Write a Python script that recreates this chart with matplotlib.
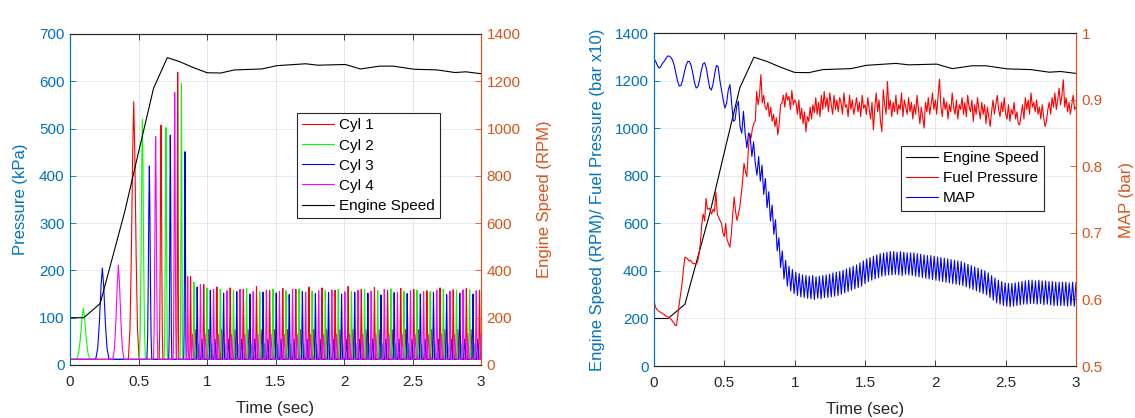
import numpy as np
import matplotlib.pyplot as plt

plt.rcParams['font.family'] = ['Liberation Sans', 'DejaVu Sans']

C_LEFT = (0.0, 0.447, 0.741)
C_RIGHT = (0.85, 0.325, 0.098)
C_DARK = (0.15, 0.15, 0.15)

# engine speed (RPM), same run on both panels
speed_t = [0.0, 0.10, 0.22, 0.40, 0.50, 0.61, 0.71, 0.80, 0.90, 1.00, 1.10, 1.20, 1.40,
           1.51, 1.72, 1.81, 2.01, 2.12, 2.26, 2.36, 2.51, 2.68, 2.81, 2.89, 3.00]
speed_rpm = [200, 200, 260, 650, 900, 1171, 1300, 1283, 1258, 1236, 1235, 1248, 1252,
             1266, 1274, 1268, 1271, 1252, 1264, 1264, 1251, 1248, 1237, 1240, 1232]

# cylinder pressure peaks: firing time (s) and peak pressure (kPa)
cyl1_t = [0.465, 0.664, 0.786, 0.880,
          0.976, 1.072, 1.169, 1.265, 1.361, 1.457, 1.553, 1.648, 1.744, 1.839, 1.935,
          2.030, 2.126, 2.222, 2.318, 2.414, 2.509, 2.605, 2.701, 2.797, 2.893, 2.989]
cyl1_p = [557, 507, 619, 187,
          170, 165, 163, 160, 166, 158, 162, 160, 165, 163, 158,
          166, 160, 164, 158, 162, 160, 157, 163, 159, 162, 158]
cyl2_t = [0.097, 0.528, 0.700, 0.813,
          0.904, 1.000, 1.097, 1.193, 1.289, 1.385, 1.481, 1.576, 1.672, 1.767, 1.863,
          1.958, 2.054, 2.150, 2.246, 2.342, 2.437, 2.533, 2.629, 2.725, 2.821, 2.917]
cyl2_p = [120, 520, 502, 595,
          175, 163, 160, 158, 162, 155, 160, 157, 161, 156, 158,
          160, 155, 159, 157, 161, 156, 158, 155, 160, 157, 159]
cyl3_t = [0.236, 0.579, 0.732, 0.839,
          0.928, 1.024, 1.121, 1.217, 1.313, 1.409, 1.505, 1.600, 1.696, 1.791, 1.887,
          1.982, 2.078, 2.174, 2.270, 2.366, 2.461, 2.557, 2.653, 2.749, 2.845, 2.941]
cyl3_p = [205, 421, 486, 451,
          165, 158, 152, 155, 150, 154, 152, 149, 155, 151, 153,
          150, 154, 152, 148, 153, 151, 150, 154, 149, 152, 150]
cyl4_t = [0.353, 0.625, 0.764, 0.859,
          0.952, 1.048, 1.145, 1.241, 1.337, 1.433, 1.529, 1.624, 1.720, 1.815, 1.911,
          2.006, 2.102, 2.198, 2.294, 2.390, 2.485, 2.581, 2.677, 2.773, 2.869, 2.965]
cyl4_p = [211, 483, 576, 187,
          170, 160, 157, 160, 155, 158, 156, 160, 154, 157,
          159, 155, 158, 156, 160, 154, 157, 155, 158, 156, 159, 157]
cyl_hump = [75, 45, 55, 65]   # residual pressure bump after each firing at idle (kPa)
cyl_base = 12

# fuel pressure (bar x10), sampled every 0.01 s
FUEL_STEP = 0.01
fuel_p = [
    275, 250, 238, 233, 228, 226, 220, 218, 212, 210,
    206, 204, 198, 190, 182, 172, 170, 215, 265, 305,
    350, 410, 458, 455, 450, 442, 445, 436, 430, 432,
    428, 440, 470, 520, 600, 640, 610, 706, 660, 665,
    655, 640, 660, 650, 733, 640, 625, 612, 600, 560,
    545, 600, 530, 515, 500, 560, 640, 712, 650, 613,
    640, 670, 720, 780, 853, 820, 797, 900, 980, 960,
    1000, 1022, 1030, 1156, 1100, 1140, 1227, 1108, 1140, 1090, 1079,
    1110, 1050, 1090, 1030, 1060, 1008, 1045, 973, 1020, 1100,
    1108, 1140, 1090, 1150, 1120, 1135, 1080, 1160, 1100, 1120,
    1108, 1060, 1120, 1040, 1085, 1020, 1070, 987, 1050, 1030,
    1090, 1040, 1100, 1066, 1130, 1060, 1110, 1050, 1140, 1080,
    1156, 1090, 1130, 1070, 1150, 1100, 1060, 1140, 1080, 1120,
    1070, 1130, 1108, 1060, 1150, 1090, 1100, 1050, 1140, 1080,
    1120, 1060, 1092, 1130, 1070, 1110, 1050, 1140, 1085, 1100,
    1060, 1130, 1080, 1040, 1110, 994, 1090, 1150, 1070, 1120,
    1030, 987, 1163, 1100, 1060, 1198, 1080, 1120, 1050, 1110,
    1070, 1140, 1060, 1100, 1080, 1150, 1050, 1120, 1090, 1060,
    1130, 1070, 1110, 1040, 1100, 1060, 1140, 1080, 1020, 1090,
    1050, 1002, 1110, 1070, 1130, 1060, 1100, 1150, 1080, 1120,
    1060, 1140, 1208, 1090, 1050, 1130, 1080, 1110, 1040, 1100,
    1070, 1150, 1090, 1060, 1120, 1040, 1100, 1080, 1130, 1060,
    1110, 1050, 1140, 1090, 1070, 1120, 1030, 1100, 1060, 1130,
    1080, 1040, 1110, 1060, 1100, 1020, 1090, 1050, 1008, 1070,
    1120, 1060, 1100, 1140, 1080, 1050, 1110, 1070, 1130, 1060,
    1040, 1100, 1030, 1080, 1060, 1110, 1040, 1070, 1020, 1015,
    1060, 1100, 1040, 1130, 1080, 1120, 1060, 1150, 1090, 1110,
    1070, 1120, 1060, 1090, 1040, 1100, 1050, 1008, 1030, 1080,
    1110, 1060, 1130, 1090, 1150, 1080, 1120, 1170, 1100, 1140,
    1205, 1090, 1130, 1070, 1110, 1060, 1100, 1140, 1080, 1090,
]

# manifold absolute pressure (bar), sampled every 0.012 s
MAP_STEP = 0.012
map_bar = [
    .962, .958, .952, .948, .950, .955, .958, .962, .966, .966,
    .964, .960, .952, .940, .928, .921, .922, .930, .942, .952,
    .958, .958, .952, .940, .926, .918, .920, .930, .944, .954,
    .956, .948, .932, .918, .915, .924, .940, .952, .950, .930,
    .915, .900, .888, .895, .915, .923, .895, .868, .870, .890,
    .898, .860, .850, .883, .850, .828, .850, .845, .815, .837,
    .805, .787,
    .815, .778, .802, .758, .782, .738, .762, .718, .742, .698,
    .720, .673, .693, .648, .673, .631, .659, .620, .650, .613,
    .645, .609, .641, .606, .639, .604, .637, .603, .636, .602,
    .635, .601, .636, .600, .634, .602, .635, .601, .636, .603,
    .637, .603, .638, .604, .640, .605, .641, .606, .642, .608,
    .644, .610, .646, .612, .648, .614, .650, .616, .652, .618,
    .655, .620, .658, .624, .661, .627, .663, .629, .665, .631,
    .667, .633, .669, .635, .670, .636, .671, .637, .672, .637,
    .672, .638, .671, .637, .672, .636, .671, .638, .670, .637,
    .670, .636, .670, .635, .669, .634, .668, .633, .667, .632,
    .666, .631, .666, .630, .665, .629, .664, .628, .663, .627,
    .662, .626, .661, .625, .660, .624, .659, .623, .658, .622,
    .657, .621, .655, .619, .653, .617, .651, .615, .649, .613,
    .647, .611, .645, .609, .643, .607, .640, .603, .636, .599,
    .632, .595, .629, .593, .627, .591, .625, .590, .624, .589,
    .624, .590, .625, .591, .626, .592, .627, .593, .628, .593,
    .629, .594, .629, .594, .628, .593, .629, .594, .628, .592,
    .628, .593, .627, .592, .627, .591, .626, .591, .626, .591,
    .626, .591, .626, .590, .625, .591, .626, .590, .625,
]

# shape of one combustion pulse (relative time, fraction of peak)
PULSE_U = np.array([-1, -0.7, -0.45, -0.2, 0, 0.2, 0.45, 0.7, 1])
PULSE_F = np.array([0, 0.12, 0.4, 0.8, 1, 0.8, 0.4, 0.12, 0])

all_fire = np.sort(np.concatenate([cyl1_t, cyl2_t, cyl3_t, cyl4_t]))


def pulse_trace(times, peaks, hump):
    xs, ys = [0.0], [cyl_base]
    for t, p in zip(times, peaks):
        k = np.searchsorted(all_fire, t)
        gap = all_fire[k] - all_fire[k - 1] if k > 0 else all_fire[1] - all_fire[0]
        w = 0.35 * gap
        xs += list(t + w * PULSE_U)
        ys += list(cyl_base + (p - cyl_base) * PULSE_F)
        if t > 0.85:
            xs += [t + 0.026, t + 0.034, t + 0.044]
            ys += [cyl_base, hump, cyl_base]
    xs.append(3.0)
    ys.append(cyl_base)
    return xs, ys


def style_axes(ax, ax2):
    ax.set_xlim(0, 3)
    ax.set_xticks([0, 0.5, 1, 1.5, 2, 2.5, 3])
    ax.set_xticklabels(['0', '0.5', '1', '1.5', '2', '2.5', '3'])
    ax.tick_params(axis='x', direction='in', length=4, width=0.6, colors=C_DARK,
                   labelsize=11, top=True, pad=7)
    ax.tick_params(axis='y', direction='in', length=4, width=0.6, colors=C_LEFT,
                   labelsize=11, pad=4)
    ax2.tick_params(axis='y', direction='in', length=4, width=0.6, colors=C_RIGHT,
                    labelsize=11, pad=4)
    ax.xaxis.grid(True, color=C_DARK, alpha=0.13, lw=0.6)
    ax.yaxis.grid(True, color=C_LEFT, alpha=0.13, lw=0.6)
    ax.set_axisbelow(True)
    for a in (ax, ax2):
        a.spines['top'].set_color(C_DARK)
        a.spines['bottom'].set_color(C_DARK)
        a.spines['left'].set_color(C_LEFT)
        a.spines['right'].set_color(C_RIGHT)
        for s in a.spines.values():
            s.set_linewidth(0.8)
    ax.set_xlabel('Time (sec)', fontsize=12, color=C_DARK, labelpad=9)


fig = plt.figure(figsize=(11.35, 4.18), dpi=100)

# ---- left panel: cylinder pressures ----
ax1 = fig.add_axes([0.0617, 0.1268, 0.3621, 0.7919])
ax1r = ax1.twinx()
handles = []
for tt, pp, hh, col, name in [(cyl1_t, cyl1_p, cyl_hump[0], (1, 0, 0), 'Cyl 1'),
                              (cyl2_t, cyl2_p, cyl_hump[1], (0, 1, 0), 'Cyl 2'),
                              (cyl3_t, cyl3_p, cyl_hump[2], (0, 0, 1), 'Cyl 3'),
                              (cyl4_t, cyl4_p, cyl_hump[3], (1, 0, 1), 'Cyl 4')]:
    xs, ys = pulse_trace(tt, pp, hh)
    h, = ax1.plot(xs, ys, color=col, lw=0.8, label=name)
    handles.append(h)
h, = ax1r.plot(speed_t, speed_rpm, color='k', lw=0.8, label='Engine Speed')
handles.append(h)
ax1.set_ylim(0, 700)
ax1.set_yticks(range(0, 701, 100))
ax1r.set_ylim(0, 1400)
ax1r.set_yticks(range(0, 1401, 200))
ax1.set_ylabel('Pressure (kPa)', fontsize=12, color=C_LEFT, labelpad=8)
ax1r.set_ylabel('Engine Speed (RPM)', fontsize=12, color=C_RIGHT, labelpad=12)
style_axes(ax1, ax1r)
ax1r.legend(handles=handles, loc='upper left', bbox_to_anchor=(0.552, 0.761),
            borderaxespad=0, fancybox=False, edgecolor=C_DARK, framealpha=1,
            fontsize=11, handlelength=2.1, handletextpad=0.3, labelspacing=0.4,
            borderpad=0.35).get_frame().set_linewidth(0.8)

# ---- right panel: engine speed, fuel pressure, MAP ----
ax2 = fig.add_axes([0.5762, 0.1244, 0.3718, 0.7955])
ax2r = ax2.twinx()
fuel_t = np.arange(len(fuel_p)) * FUEL_STEP
map_t = np.arange(len(map_bar)) * MAP_STEP
h1, = ax2.plot(speed_t, speed_rpm, color='k', lw=0.8, label='Engine Speed')
h2, = ax2.plot(fuel_t, fuel_p, color=(1, 0, 0), lw=0.8, label='Fuel Pressure')
h3, = ax2r.plot(map_t, map_bar, color=(0, 0, 1), lw=0.8, label='MAP')
ax2.set_ylim(0, 1400)
ax2.set_yticks(range(0, 1401, 200))
ax2r.set_ylim(0.5, 1.0)
ax2r.set_yticks([0.5, 0.6, 0.7, 0.8, 0.9, 1.0])
ax2r.set_yticklabels(['0.5', '0.6', '0.7', '0.8', '0.9', '1'])
ax2.set_ylabel('Engine Speed (RPM)/ Fuel Pressure (bar x10)', fontsize=12,
               color=C_LEFT, labelpad=7)
ax2r.set_ylabel('MAP (bar)', fontsize=12, color=C_RIGHT, labelpad=12)
style_axes(ax2, ax2r)
ax2r.legend(handles=[h1, h2, h3], loc='upper left', bbox_to_anchor=(0.585, 0.662),
            borderaxespad=0, fancybox=False, edgecolor=C_DARK, framealpha=1,
            fontsize=11, handlelength=2.1, handletextpad=0.3, labelspacing=0.4,
            borderpad=0.35).get_frame().set_linewidth(0.8)

fig.savefig('out.png', dpi=100)
